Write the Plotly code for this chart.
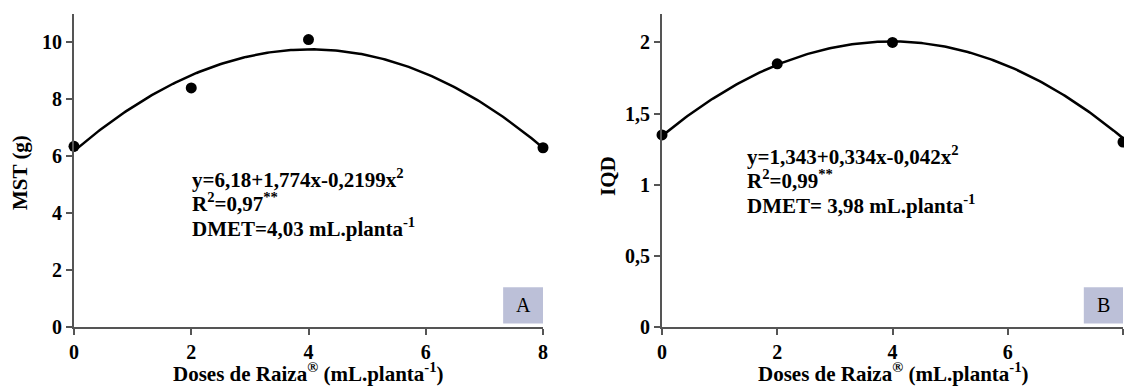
import numpy as np
import plotly.graph_objects as go

# Doses de Raiza (mL.planta-1)
doses = [0, 2, 4, 8]
# Painel A - MST (g)
mst = [6.35, 8.4, 10.1, 6.3]
coef_mst = [6.18, 1.774, -0.2199]
# Painel B - IQD
iqd = [1.35, 1.85, 2.0, 1.3]
coef_iqd = [1.343, 0.334, -0.042]

y_ticks_a = [0, 2, 4, 6, 8, 10]
y_ticks_b = [0, 0.5, 1, 1.5, 2]
y_text_b = ["0", "0,5", "1", "1,5", "2"]
x_ticks = [0, 2, 4, 6, 8]

eq_a = ["y=6,18+1,774x-0,2199x<sup>2</sup>", "R<sup>2</sup>=0,97<sup>**</sup>",
        "DMET=4,03 mL.planta<sup>-1</sup>"]
eq_b = ["y=1,343+0,334x-0,042x<sup>2</sup>", "R<sup>2</sup>=0,99<sup>**</sup>",
        "DMET= 3,98 mL.planta<sup>-1</sup>"]

SERIF = "Liberation Serif, Times New Roman, serif"
W, H = 1124, 387


def px(x):
    return x / W


def py(y):
    return 1 - y / H


fig = go.Figure()

# curvas de regressão a partir dos coeficientes das equações
xc = np.linspace(0, 8, 200)
for coef, obs, xa, ya in [(coef_mst, mst, "x", "y"), (coef_iqd, iqd, "x2", "y2")]:
    yc = coef[0] + coef[1] * xc + coef[2] * xc ** 2
    fig.add_trace(go.Scatter(x=xc, y=yc, mode="lines", line=dict(color="black", width=2.5),
                             xaxis=xa, yaxis=ya, showlegend=False, hoverinfo="skip"))
    fig.add_trace(go.Scatter(x=doses, y=obs, mode="markers", marker=dict(color="black", size=11),
                             xaxis=xa, yaxis=ya, showlegend=False, cliponaxis=False))

axis_common = dict(showgrid=False, zeroline=False, showline=True, linecolor="#555", linewidth=2,
                   ticks="outside", ticklen=6, tickwidth=2, tickcolor="#555", automargin=False,
                   tickfont=dict(family=SERIF, size=20, color="black", weight="bold"))

ydom = [py(327), py(14)]
fig.update_layout(
    width=W, height=H,
    margin=dict(l=0, r=0, t=0, b=0),
    paper_bgcolor="white", plot_bgcolor="white",
    xaxis=dict(domain=[px(74), px(543)], range=[0, 8], tickvals=x_ticks, anchor="y", **axis_common),
    yaxis=dict(domain=ydom, range=[0, 11], tickvals=y_ticks_a, anchor="x", **axis_common),
    xaxis2=dict(domain=[px(662), px(1123)], range=[0, 8], tickvals=x_ticks, anchor="y2", **axis_common),
    yaxis2=dict(domain=ydom, range=[0, 2.2], tickvals=y_ticks_b, ticktext=y_text_b, anchor="x2",
                **axis_common),
)

# caixas com letras A e B
fig.add_shape(type="rect", xref="x", yref="y", x0=7.32, x1=8, y0=0.12, y1=1.4,
              fillcolor="#bcc0d8", line=dict(width=0), layer="below")
fig.add_shape(type="rect", xref="x2", yref="y2", x0=7.32, x1=8, y0=0.024, y1=0.28,
              fillcolor="#bcc0d8", line=dict(width=0), layer="below")
fig.add_annotation(x=7.66, y=0.76, xref="x", yref="y", text="A", showarrow=False,
                   font=dict(family=SERIF, size=20, color="black"))
fig.add_annotation(x=7.66, y=0.152, xref="x2", yref="y2", text="B", showarrow=False,
                   font=dict(family=SERIF, size=20, color="black"))

# equações, uma linha por anotação
eq_font = dict(family=SERIF, size=21, color="black", weight="bold")
for lines, x0, y0 in [(eq_a, 190, 178), (eq_b, 745, 155)]:
    for n, txt in enumerate(lines):
        fig.add_annotation(x=px(x0), y=py(y0 + 24.5 * n), xref="paper", yref="paper",
                           text=txt, showarrow=False, xanchor="left", yanchor="middle",
                           align="left", font=eq_font)

# títulos dos eixos
title_font = dict(family=SERIF, size=21, color="black", weight="bold")
xtitle = "Doses de Raiza<sup>®</sup> (mL.planta<sup>-1</sup>)"
for xt in [308, 893]:
    fig.add_annotation(x=px(xt), y=0, xref="paper", yref="paper", text=xtitle,
                       showarrow=False, xanchor="center", yanchor="bottom", borderpad=0,
                       font=title_font)
fig.add_annotation(x=px(20), y=py(173), xref="paper", yref="paper", text="MST (g)",
                   showarrow=False, textangle=-90, xanchor="center", yanchor="middle",
                   font=title_font)
fig.add_annotation(x=px(608), y=py(176), xref="paper", yref="paper", text="IQD",
                   showarrow=False, textangle=-90, xanchor="center", yanchor="middle",
                   font=title_font)

# sem margem no body da página
fig.write_html("out.html", config={"displayModeBar": False},
               post_script="document.body.style.margin='0';"
                           "document.body.style.overflow='hidden';")
